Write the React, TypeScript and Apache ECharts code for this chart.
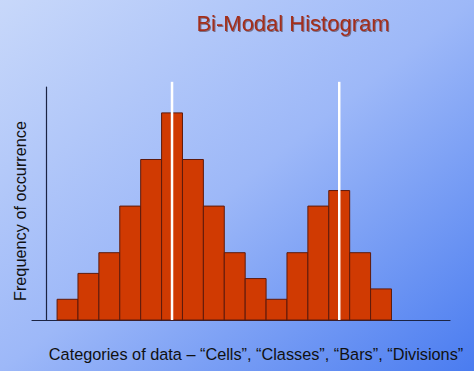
import React, { useEffect, useRef } from "react";
import * as echarts from "echarts";

const bins = [1, 2, 3, 4, 5, 6, 7, 8, 9, 10, 11, 12, 13, 14, 15, 16];
const frequencies = [1, 2.25, 3.25, 5.5, 7.75, 10, 7.75, 5.5, 3.25, 2, 1, 3.25, 5.5, 6.25, 3.25, 1.5];
const modes = [6, 14];
const modeLineTop = 11.5;
const titleText = "Bi-Modal Histogram";
const xTitle = "Categories of data \u2013 \u201cCells\u201d, \u201cClasses\u201d, \u201cBars\u201d, \u201cDivisions\u201d";
const yTitle = "Frequency of occurrence";

export default function App() {
  const ref = useRef<HTMLDivElement>(null);
  useEffect(() => {
    document.body.style.margin = "0";
    const chart = echarts.init(ref.current!, null, { renderer: "svg" });
    const font = "Liberation Sans, Arial, sans-serif";
    chart.setOption({
      animation: false,
      backgroundColor: new echarts.graphic.LinearGradient(0, 0, 1, 1, [
        { offset: 0, color: "#c8d8fa" },
        { offset: 0.5, color: "#9db8f8" },
        { offset: 1, color: "#4a7cf0" },
      ]),
      title: {
        text: titleText,
        left: 288,
        top: 7,
        textAlign: "center",
        textStyle: {
          fontFamily: font,
          fontSize: 22,
          fontWeight: "normal",
          color: "#a32e1a",
          textShadowColor: "rgba(60,20,10,0.5)",
          textShadowOffsetX: 1,
          textShadowOffsetY: 1,
          textShadowBlur: 1,
        },
      },
      grid: { left: 32, right: 24, top: 87, bottom: 51 },
      xAxis: {
        type: "value",
        min: -0.7,
        max: 19.3,
        axisLine: { show: true, lineStyle: { color: "#1c2444", width: 1.2 } },
        axisTick: { show: false },
        axisLabel: { show: false },
        splitLine: { show: false },
      },
      yAxis: {
        type: "value",
        min: 0,
        max: 11.25,
        axisLine: { show: true, lineStyle: { color: "#1c2444", width: 1.2 } },
        axisTick: { show: false },
        axisLabel: { show: false },
        splitLine: { show: false },
      },
      graphic: [
        {
          type: "text",
          x: 256,
          y: 354,
          style: {
            text: xTitle,
            fontFamily: font,
            fontSize: 16.3,
            fill: "#111111",
            align: "center",
            verticalAlign: "middle",
          },
        },
        {
          type: "text",
          x: 20,
          y: 211,
          rotation: Math.PI / 2,
          style: {
            text: yTitle,
            fontFamily: font,
            fontSize: 16.3,
            fill: "#111111",
            align: "center",
            verticalAlign: "middle",
          },
        },
      ],
      series: [
        {
          type: "custom",
          data: bins.map((b, i) => [b, frequencies[i]]),
          renderItem: (params: any, api: any) => {
            const x = api.value(0);
            const y = api.value(1);
            const p0 = api.coord([x - 0.5, y]);
            const p1 = api.coord([x + 0.5, 0]);
            return {
              type: "rect",
              shape: { x: p0[0], y: p0[1], width: p1[0] - p0[0], height: p1[1] - p0[1] },
              style: { fill: "#d03a02", stroke: "#5e1a0c", lineWidth: 1 },
            };
          },
        },
        {
          type: "custom",
          clip: false,
          data: modes.map((m) => [m, modeLineTop]),
          renderItem: (params: any, api: any) => {
            const x = api.value(0);
            const top = api.coord([x, api.value(1)]);
            const bottom = api.coord([x, 0]);
            return {
              type: "line",
              shape: { x1: top[0], y1: top[1], x2: bottom[0], y2: bottom[1] },
              style: { stroke: "#ffffff", lineWidth: 2.5 },
            };
          },
        },
      ],
    });
    return () => chart.dispose();
  }, []);
  return <div ref={ref} style={{ width: 474, height: 371 }} />;
}
